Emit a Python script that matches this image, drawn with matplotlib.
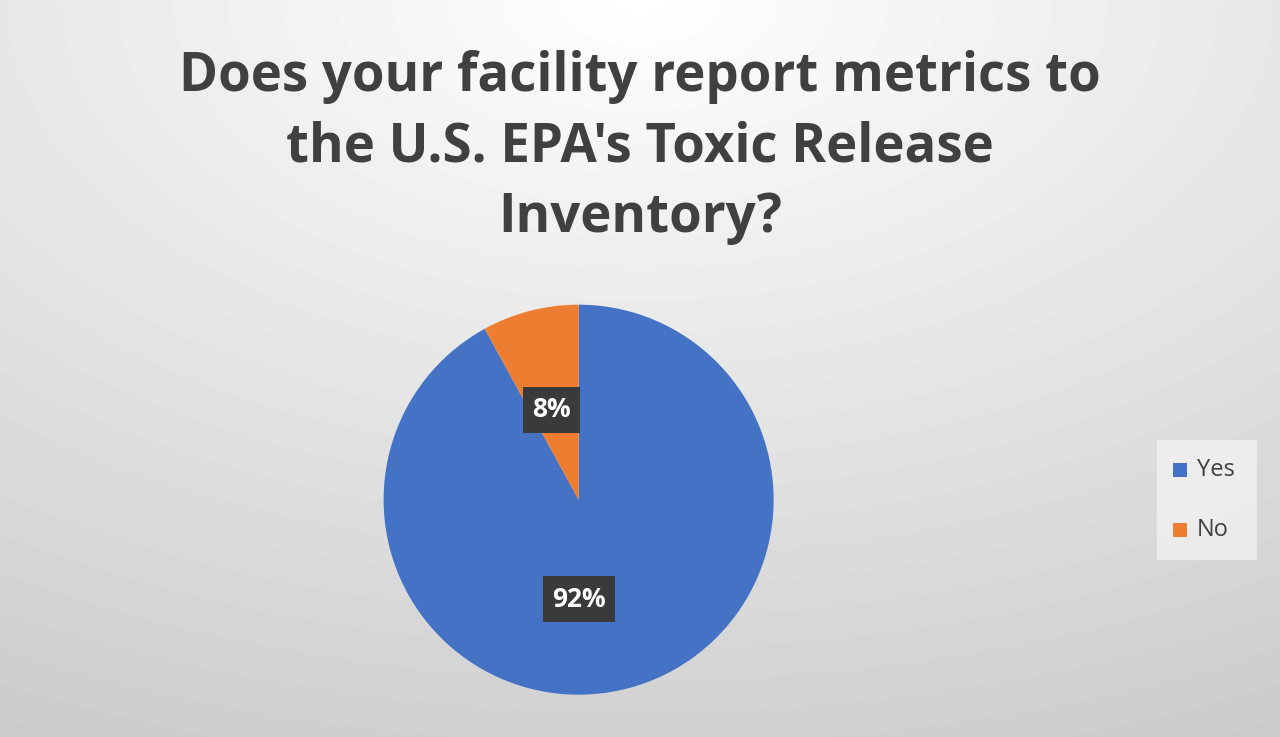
import numpy as np
import matplotlib.pyplot as plt
from matplotlib.patches import Rectangle

labels = ['Yes', 'No']
values = [92, 8]
colors = ['#4472C4', '#ED7D31']

fig = plt.figure(figsize=(12.8, 7.37), dpi=100)

# radial gray background
bg = fig.add_axes([0, 0, 1, 1])
yy, xx = np.mgrid[0:737, 0:1280]
d = np.sqrt(((xx - 640) / 1280.0) ** 2 + ((yy - 0) / 737.0) ** 2)
shade = 1.0 - 0.2 * np.clip(d / 1.1, 0, 1)
bg.imshow(shade, cmap='gray', vmin=0, vmax=1, extent=[0, 1, 0, 1], aspect='auto')
bg.axis('off')

fig.text(0.5, 0.80, "Does your facility report metrics to\nthe U.S. EPA's Toxic Release\nInventory?",
         ha='center', va='center', fontsize=38, fontweight='bold', color='#404040',
         family='Open Sans', linespacing=1.4)

ax = fig.add_axes([0.452 - 0.1523, 0.322 - 0.2646, 0.3047, 0.5292])
wedges, _ = ax.pie(values, colors=colors, startangle=90, counterclock=False,
                   wedgeprops=dict(edgecolor='none'))
ax.set_xlim(-1, 1)
ax.set_ylim(-1, 1)
ax.set_aspect('equal')

label_pos = [(0.0, -0.51), (-0.14, 0.46)]
for v, (lx, ly) in zip(values, label_pos):
    ax.text(lx, ly, f'{v}%', ha='center', va='center', fontsize=19, fontweight='bold',
            color='white', family='Open Sans',
            bbox=dict(boxstyle='square,pad=0.35', facecolor='#3a3a3a', edgecolor='none'))

# legend
fig.patches.append(Rectangle((1157 / 1280, 1 - 560 / 737), 100 / 1280, 120 / 737,
                             transform=fig.transFigure, facecolor='white', alpha=0.5,
                             edgecolor='none'))
for i, (lab, c) in enumerate(zip(labels, colors)):
    y = 1 - (470 + 60 * i) / 737
    fig.patches.append(Rectangle((1173 / 1280, y - 7 / 737), 14 / 1280, 14 / 737,
                                 transform=fig.transFigure, facecolor=c, edgecolor='none'))
    fig.text(1197 / 1280, y, lab, va='center', ha='left', fontsize=17,
             color='#404040', family='Open Sans')

fig.savefig('out.png', dpi=100)
